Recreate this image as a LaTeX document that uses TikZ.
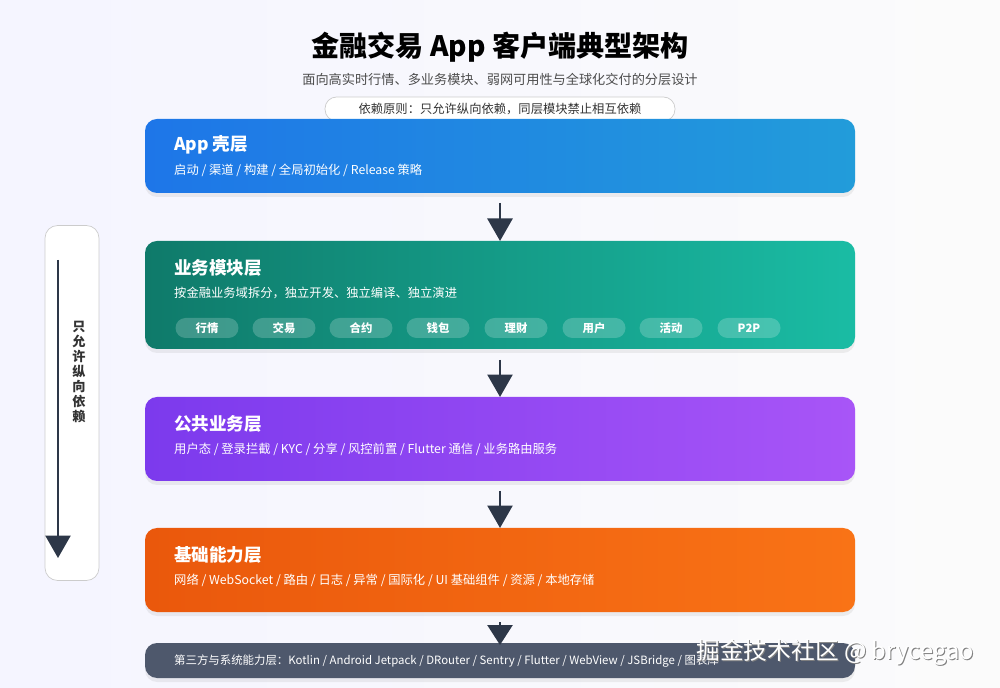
\documentclass[tikz,border=0pt]{standalone}
\usepackage{fontspec}
\setmainfont{Noto Sans CJK SC}
\usetikzlibrary{arrows.meta,shadows}
\begin{document}
\begin{tikzpicture}[x=0.02cm,y=-0.02cm,
  layer/.style={rounded corners=0.24cm,draw=none,drop shadow={opacity=0.12,shadow xshift=0,shadow yshift=-0.08cm}},
  ttl/.style={anchor=west,text=white,font=\fontsize{10}{12}\selectfont\bfseries},
  sub/.style={anchor=west,text=white,font=\fontsize{7}{8}\selectfont},
  pill/.style={rounded corners=0.2cm,fill=white,fill opacity=0.2,text opacity=1,text=white,minimum width=1.26cm,minimum height=0.4cm,inner sep=0,font=\fontsize{6.5}{7}\selectfont\bfseries},
  dep/.style={-{Triangle[width=0.5cm,length=0.45cm]},line width=1.5pt,draw={rgb,255:red,45;green,55;blue,72}}]
\fill[left color=white!96!blue,right color=white!97!gray] (0,0) rectangle (1000,688);
\node (title) at (500,47) {\fontsize{16}{18}\selectfont\bfseries 金融交易 App 客户端典型架构};
\node[text=black!70] (subt) at (500,79) {\fontsize{7.5}{9}\selectfont 面向高实时行情、多业务模块、弱网可用性与全球化交付的分层设计};
\node[draw=black!20,fill=white,rounded corners=0.23cm,minimum width=7cm,minimum height=0.48cm,text=black!80,font=\fontsize{7}{8}\selectfont] (rule) at (500,109) {依赖原则：只允许纵向依赖，同层模块禁止相互依赖};
% layers
\path[layer,left color={rgb,255:red,30;green,118;blue,232},right color={rgb,255:red,34;green,156;blue,218}] (145,119) rectangle (855,193);
\node[ttl] (t1) at (168,145) {App 壳层};
\node[sub] (s1) at (168,170) {启动 / 渠道 / 构建 / 全局初始化 / Release 策略};
\path[layer,left color={rgb,255:red,15;green,122;blue,106},right color={rgb,255:red,26;green,188;blue,164}] (145,241) rectangle (855,349);
\node[ttl] (t2) at (168,268) {业务模块层};
\node[sub] (s2) at (168,293) {按金融业务域拆分，独立开发、独立编译、独立演进};
\foreach \x/\n in {207/行情,284/交易,361/合约,438/钱包,516/理财,594/用户,671/活动,749/P2P}
  \node[pill] (p\x) at (\x,328) {\n};
\path[layer,left color={rgb,255:red,124;green,58;blue,237},right color={rgb,255:red,168;green,85;blue,247}] (145,397) rectangle (855,481);
\node[ttl] (t3) at (168,424) {公共业务层};
\node[sub] (s3) at (168,449) {用户态 / 登录拦截 / KYC / 分享 / 风控前置 / Flutter 通信 / 业务路由服务};
\path[layer,left color={rgb,255:red,234;green,88;blue,12},right color={rgb,255:red,249;green,115;blue,22}] (145,528) rectangle (855,612);
\node[ttl] (t4) at (168,555) {基础能力层};
\node[sub] (s4) at (168,580) {网络 / WebSocket / 路由 / 日志 / 异常 / 国际化 / UI 基础组件 / 资源 / 本地存储};
\path[layer,fill={rgb,255:red,78;green,88;blue,108}] (145,643) rectangle (855,678);
\node[sub,font=\fontsize{6.5}{8}\selectfont] (s5) at (168,661) {第三方与系统能力层：Kotlin / Android Jetpack / DRouter / Sentry / Flutter / WebView / JSBridge / 图表库};
% arrows
\coordinate (a1) at (500,203); \coordinate (b1) at (500,241);
\coordinate (a2) at (500,360); \coordinate (b2) at (500,397);
\coordinate (a3) at (500,491); \coordinate (b3) at (500,528);
\coordinate (a4) at (500,622); \coordinate (b4) at (500,645);
\draw[dep] (a1) -- (b1); \draw[dep] (a2) -- (b2); \draw[dep] (a3) -- (b3);
\draw[dep,-{Triangle[width=0.5cm,length=0.4cm]}] (a4) -- (b4);
% side
\node[draw=black!20,fill=white,rounded corners=0.25cm,minimum width=1.08cm,minimum height=7.1cm] (side) at (72,403) {};
\coordinate (sa) at (58,260); \coordinate (sb) at (58,558);
\draw[dep] (sa) -- (sb);
\node[align=center,font=\fontsize{7.5}{8.6}\selectfont\bfseries,text=black!80] (sl) at (79,372) {只\\允\\许\\纵\\向\\依\\赖};
\node[text=black!50,font=\fontsize{13.5}{15}\selectfont,anchor=east] (wms) at (981,653) {掘金技术社区 @ brycegao};
\node[text=white,font=\fontsize{13.5}{15}\selectfont,anchor=east] (wm) at (980,652) {掘金技术社区 @ brycegao};
\end{tikzpicture}
\end{document}
